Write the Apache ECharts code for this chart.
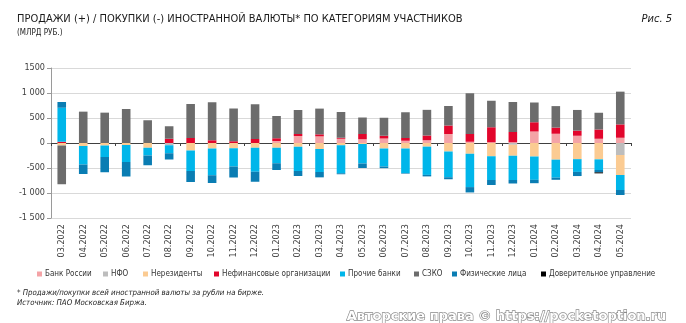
<!DOCTYPE html>
<html>
<head>
<meta charset="utf-8">
<script src="https://cdn.jsdelivr.net/npm/echarts@6/dist/echarts.min.js"></script>
<style>
  html, body { margin: 0; padding: 0; background: #fff; }
  #chart { width: 686px; height: 323px; }
</style>
</head>
<body>
<div id="chart"></div>
<script>
// Месяцы
var months = ['03.2022','04.2022','05.2022','06.2022','07.2022','08.2022','09.2022','10.2022','11.2022','12.2022',
  '01.2023','02.2023','03.2023','04.2023','05.2023','06.2023','07.2023','08.2023','09.2023','10.2023','11.2023','12.2023',
  '01.2024','02.2024','03.2024','04.2024','05.2024'];

// Продажи (+) / покупки (-), млрд руб.
var bankRossii   = [0,0,0,0,0,0,0,0,0,0, 40,140,133,85,75,90,45,55,180,25,15,15, 230,185,145,85,105];
var nfo          = [0,0,0,0,0,-45,0,0,0,0, 0,0,0,0,0,0,0,0,0,0,0,-35, 0,0,0,0,-240];
var nerezidenty  = [-50,-60,-50,-40,-95,0,-150,-110,-105,-95, -95,-75,-120,-45,-20,-110,-110,-73,-170,-215,-265,-220, -270,-333,-323,-327,-400];
var nefin        = [25,0,0,0,0,85,100,55,35,80, 55,40,40,20,105,55,55,95,170,155,300,205, 185,123,103,185,267];
var prochieBanki = [680,-370,-230,-340,-155,-160,-410,-535,-365,-480, -310,-485,-460,-560,-390,-360,-490,-565,-515,-667,-475,-485, -467,-360,-255,-213,-300];
var szko         = [-775,627,607,680,455,250,680,760,655,695, 445,480,515,515,330,360,515,513,390,815,530,600, 395,430,413,335,655];
var fizLica      = [115,-190,-305,-290,-195,-125,-220,-155,-220,-200, -135,-100,-107,-20,-90,-33,-12,-30,-40,-107,-100,-70, -67,-43,-83,-47,-100];
var doverUpr     = [0,0,0,0,0,0,0,0,0,0, 0,0,0,0,0,0,0,0,0,0,0,0, 0,0,0,-20,0];

// Подписи шкалы
var yTicks  = [-1500,-1000,-500,0,500,1000,1500];
var yLabels = ['-1 500','-1 000','-500','0','500','1 000','1500'];

var seriesNames = ['Банк России','НФО','Нерезиденты','Нефинансовые организации','Прочие банки','СЗКО','Физические лица','Доверительное управление'];
var seriesData  = [bankRossii, nfo, nerezidenty, nefin, prochieBanki, szko, fizLica, doverUpr];
var seriesColors = ['#f4a3a6','#bdbdbd','#fbcb92','#e2062c','#00b6ea','#6c6c6c','#0a7db3','#000000'];
var legendLeft = [37, 103, 143, 214, 340, 414, 452, 541];

var NARROW = "'Liberation Sans Narrow','DejaVu Sans Condensed','Arial Narrow',sans-serif";

var chart = echarts.init(document.getElementById('chart'), null, { renderer: 'canvas' });

var series = seriesNames.map(function (name, i) {
  return {
    name: name,
    type: 'bar',
    stack: 'all',
    xAxisIndex: 0,
    barWidth: '40%',
    itemStyle: { color: seriesColors[i] },
    emphasis: { disabled: true },
    data: seriesData[i]
  };
});

var legends = seriesNames.map(function (name, i) {
  return {
    data: [name],
    left: legendLeft[i],
    top: 270,
    icon: 'rect',
    itemWidth: 5,
    itemHeight: 5,
    itemGap: 0,
    padding: 0,
    selectedMode: false,
    textStyle: { fontFamily: NARROW, fontSize: 8, color: '#333', padding: [0, 0, 0, -2] }
  };
});

chart.setOption({
  animation: false,
  backgroundColor: '#ffffff',
  grid: { left: 51, right: 55, top: 68, bottom: 105, containLabel: false },
  legend: legends,
  xAxis: [
    {
      type: 'category',
      data: months,
      position: 'top',
      axisLine: { onZero: true, lineStyle: { color: '#404040', width: 1 } },
      axisTick: { show: true, inside: true, length: 3, lineStyle: { color: '#404040' } },
      axisLabel: { show: false },
      splitLine: { show: false }
    },
    {
      type: 'category',
      data: months,
      position: 'bottom',
      axisLine: { show: false, onZero: false },
      axisTick: { show: false },
      axisLabel: { rotate: 90, margin: 6, fontFamily: NARROW, fontSize: 9, color: '#404040' },
      splitLine: { show: false }
    }
  ],
  yAxis: {
    type: 'value',
    min: yTicks[0],
    max: yTicks[yTicks.length - 1],
    interval: 500,
    axisLine: { show: true, lineStyle: { color: '#9a9a9a' } },
    axisTick: { show: true, length: 4, lineStyle: { color: '#9a9a9a' } },
    axisLabel: {
      margin: 6,
      fontFamily: NARROW,
      fontSize: 9,
      color: '#404040',
      formatter: function (v) {
        var k = yTicks.indexOf(v);
        return k >= 0 ? yLabels[k] : '';
      }
    },
    splitLine: { show: true, lineStyle: { color: '#d9d9d9', width: 1 } }
  },
  graphic: [
    {
      type: 'text', left: 17, top: 14,
      style: { text: 'ПРОДАЖИ (+) / ПОКУПКИ (-) ИНОСТРАННОЙ ВАЛЮТЫ* ПО КАТЕГОРИЯМ УЧАСТНИКОВ',
        font: "11px " + NARROW, fill: '#1a1a1a' }
    },
    {
      type: 'text', left: 17, top: 29,
      style: { text: '(МЛРД РУБ.)', font: "8px " + NARROW, fill: '#1a1a1a' }
    },
    {
      type: 'text', right: 14, top: 14,
      style: { text: 'Рис. 5', font: "italic 11px " + NARROW, fill: '#1a1a1a' }
    },
    {
      type: 'text', left: 17, top: 289,
      style: { text: '* Продажи/покупки всей иностранной валюты за рубли на бирже.', font: "italic 7.8px " + NARROW, fill: '#1a1a1a' }
    },
    {
      type: 'text', left: 17, top: 299,
      style: { text: 'Источник: ПАО Московская Биржа.', font: "italic 7.8px " + NARROW, fill: '#1a1a1a' }
    },
    {
      type: 'text', left: 346, top: 309,
      style: { text: 'Авторские права © https://pocketoption.ru', font: "bold 13px 'DejaVu Sans'",
        fill: '#ffffff', stroke: '#8a8a8a', lineWidth: 1.3 }
    }
  ],
  series: series
});
</script>
</body>
</html>
